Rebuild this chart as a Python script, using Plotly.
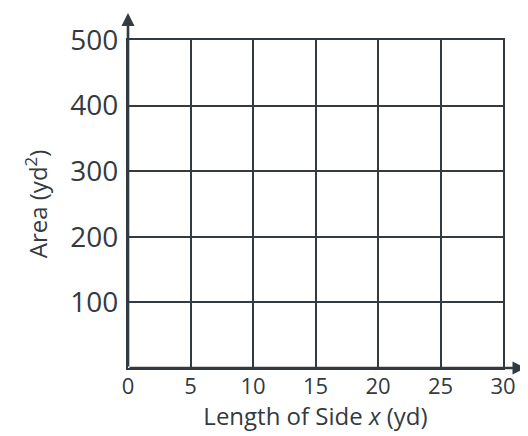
import plotly.graph_objects as go

# Data (empty grid worksheet)
x_ticks = [0, 5, 10, 15, 20, 25, 30]
y_ticks = [100, 200, 300, 400, 500]
x_label = "Length of Side <i>x</i> (yd)"
y_label = "Area (yd<sup>2</sup>)"

INK = "#333a40"
FONT = "Open Sans"

fig = go.Figure()
fig.add_trace(go.Scatter(x=[], y=[], mode="markers", showlegend=False))

fig.update_layout(
    width=520, height=428,
    margin=dict(l=120, r=25, t=29, b=68),
    paper_bgcolor="white", plot_bgcolor="white",
    font=dict(family=FONT, color=INK),
    xaxis=dict(
        range=[0, 30], tickvals=x_ticks, ticktext=[str(v) for v in x_ticks],
        showgrid=True, gridcolor=INK, gridwidth=1.8,
        showline=True, mirror=True, linecolor=INK, linewidth=2.2,
        zeroline=False, ticks="", tickfont=dict(size=22, color=INK),
        ticklabelstandoff=-3,
        title=dict(text=x_label, font=dict(size=24, color=INK), standoff=2),
        fixedrange=True,
    ),
    yaxis=dict(
        range=[0, 500], tickvals=y_ticks, ticktext=[str(v) for v in y_ticks],
        showgrid=True, gridcolor=INK, gridwidth=1.8,
        showline=True, mirror=True, linecolor=INK, linewidth=2.2,
        zeroline=False, ticks="", tickfont=dict(size=28, color=INK),
        ticklabelstandoff=2,
        title=dict(text=y_label, font=dict(size=24, color=INK), standoff=16),
        fixedrange=True,
    ),
    annotations=[
        # y axis arrow
        dict(x=0, y=541, ax=0, ay=0, xref="x", yref="y",
             axref="x", ayref="y", showarrow=True, text="",
             arrowhead=2, arrowsize=1.0, arrowwidth=2.6, arrowcolor=INK),
        # x axis arrow
        dict(x=31.8, y=0, ax=0, ay=0, xref="x", yref="y",
             axref="x", ayref="y", showarrow=True, text="",
             arrowhead=2, arrowsize=1.0, arrowwidth=2.6, arrowcolor=INK),
    ],
)

fig.write_html("out.html")
